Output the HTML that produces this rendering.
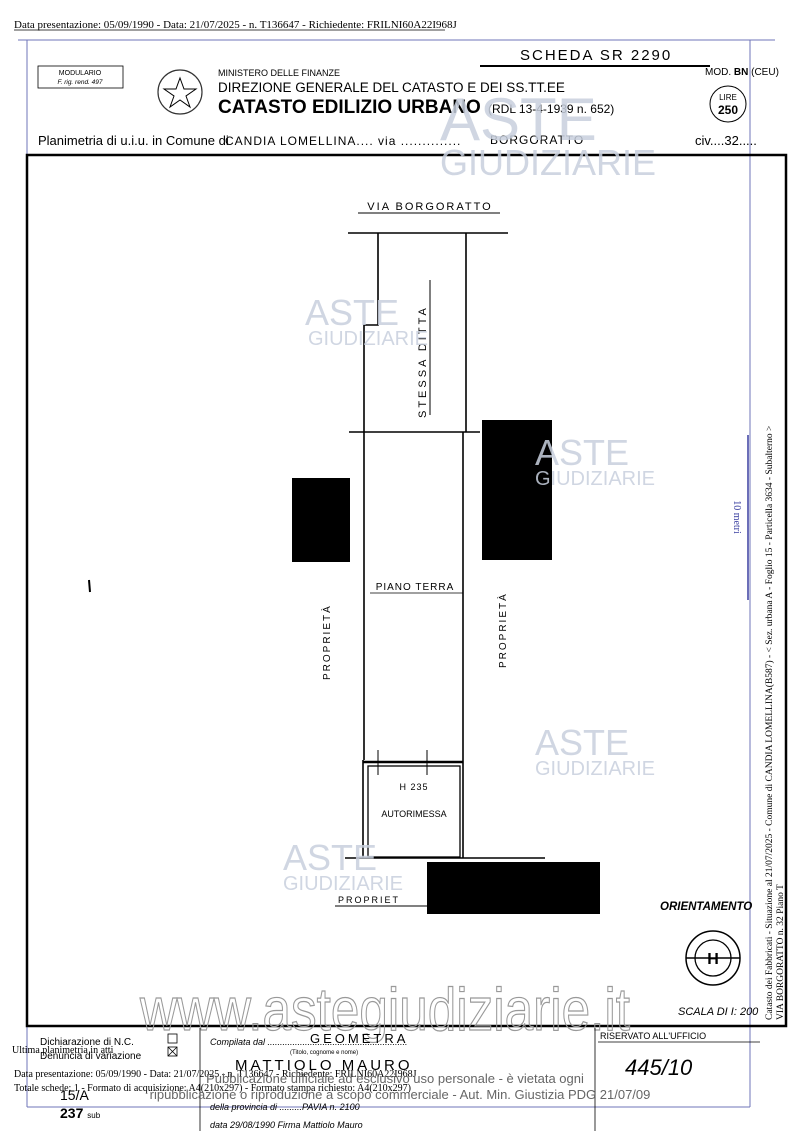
<!DOCTYPE html>
<html><head><meta charset="utf-8"><style>
html,body{margin:0;padding:0;background:#fff;}
svg{display:block;font-family:"Liberation Sans",sans-serif;}
.s{font-family:"Liberation Serif",serif;}
</style></head><body>
<svg width="800" height="1131" viewBox="0 0 800 1131" xmlns="http://www.w3.org/2000/svg">
<rect width="800" height="1131" fill="#fff"/>
<text x="14" y="28" class="s" font-size="11" fill="#000">Data presentazione: 05/09/1990 - Data: 21/07/2025 - n. T136647 - Richiedente: FRILNI60A22I968J</text>
<line x1="14" y1="30" x2="445" y2="30" stroke="#000" stroke-width="0.8"/>
<g stroke="#6f74b8" stroke-width="1" fill="none">
<line x1="18" y1="40" x2="775" y2="40"/>
<line x1="27" y1="40" x2="27" y2="1107"/>
<line x1="750" y1="40" x2="750" y2="1107"/>
<line x1="27" y1="1107" x2="750" y2="1107"/>
<line x1="748" y1="435" x2="748" y2="600" stroke="#3a3fa0" stroke-width="1.5"/>
</g>
<text x="734" y="517" class="s" font-size="10" fill="#3a3fa0" transform="rotate(90 734 517)" text-anchor="middle">10 metri</text>
<text x="520" y="60" font-size="15" letter-spacing="2">SCHEDA  SR 2290</text>
<line x1="480" y1="66" x2="710" y2="66" stroke="#000" stroke-width="2"/>
<rect x="38" y="66" width="85" height="22" fill="none" stroke="#000" stroke-width="0.8"/>
<text x="80" y="75" font-size="7" text-anchor="middle">MODULARIO</text>
<text x="80" y="84" font-size="6.5" text-anchor="middle" font-style="italic">F. rig. rend. 497</text>
<circle cx="180" cy="92" r="22" fill="none" stroke="#333" stroke-width="1.2"/>
<polygon points="180,78 184,89 196,89 186,96 190,107 180,100 170,107 174,96 164,89 176,89" fill="none" stroke="#000"/>
<text x="218" y="76" font-size="9">MINISTERO DELLE FINANZE</text>
<text x="218" y="92" font-size="13.5">DIREZIONE GENERALE DEL CATASTO E DEI SS.TT.EE</text>
<text x="218" y="113" font-size="19" font-weight="bold">CATASTO EDILIZIO URBANO</text>
<text x="488" y="113" font-size="12">(RDL 13-4-1939 n. 652)</text>
<text x="705" y="75" font-size="10">MOD. <tspan font-weight="bold">BN</tspan> (CEU)</text>
<circle cx="728" cy="104" r="18" fill="none" stroke="#000"/>
<text x="728" y="100" font-size="8" text-anchor="middle">LIRE</text>
<text x="728" y="114" font-size="12" font-weight="bold" text-anchor="middle">250</text>
<text x="38" y="145" font-size="13">Planimetria di u.i.u. in Comune di</text>
<text x="225" y="145" font-size="12" letter-spacing="1">CANDIA LOMELLINA.... via ..............</text>
<text x="490" y="144" font-size="12" letter-spacing="1">BORGORATTO</text>
<text x="695" y="145" font-size="13">civ....32.....</text>
<rect x="27" y="155" width="759" height="871" fill="none" stroke="#000" stroke-width="2.5"/>
<g stroke="#000" stroke-width="1.6" fill="none">
<line x1="358" y1="213" x2="500" y2="213" stroke-width="1"/>
<line x1="348" y1="233" x2="508" y2="233"/>
<polyline points="378,233 378,325 364,325 364,760"/>
<line x1="466" y1="233" x2="466" y2="432"/>
<line x1="463" y1="432" x2="463" y2="760"/>
<line x1="349" y1="432" x2="480" y2="432"/>
<line x1="430" y1="280" x2="430" y2="415" stroke-width="1"/>
<line x1="363" y1="762" x2="463" y2="762" stroke-width="2.5"/>
<rect x="368" y="766" width="92" height="91" stroke-width="1.3"/>
<line x1="363" y1="760" x2="363" y2="858"/>
<line x1="463" y1="760" x2="463" y2="858"/>
<line x1="345" y1="858" x2="545" y2="858"/>
<line x1="378" y1="750" x2="378" y2="775" stroke-width="1"/>
<line x1="427" y1="750" x2="427" y2="775" stroke-width="1"/>
<line x1="335" y1="906" x2="428" y2="906" stroke-width="1"/>
<line x1="370" y1="593" x2="463" y2="593" stroke-width="0.8"/>
</g>
<text x="430" y="210" font-size="11" text-anchor="middle" letter-spacing="2">VIA BORGORATTO</text>
<text x="426" y="418" font-size="11" letter-spacing="3" transform="rotate(-90 426 418)">STESSA DITTA</text>
<text x="415" y="590" font-size="10" text-anchor="middle" letter-spacing="1">PIANO TERRA</text>
<text x="330" y="680" font-size="10" letter-spacing="2" transform="rotate(-90 330 680)">PROPRIETÀ</text>
<text x="506" y="668" font-size="10" letter-spacing="2" transform="rotate(-90 506 668)">PROPRIETÀ</text>
<text x="414" y="790" font-size="9" text-anchor="middle" letter-spacing="1">H 235</text>
<text x="414" y="817" font-size="9" text-anchor="middle">AUTORIMESSA</text>
<text x="338" y="903" font-size="9" letter-spacing="2">PROPRIET</text>
<rect x="482" y="420" width="70" height="140" fill="#000"/>
<rect x="292" y="478" width="58" height="84" fill="#000"/>
<rect x="427" y="862" width="173" height="52" fill="#000"/>
<line x1="89" y1="580" x2="90" y2="592" stroke="#000" stroke-width="2"/>
<text x="660" y="910" font-size="11.5" font-style="italic" font-weight="bold">ORIENTAMENTO</text>
<circle cx="713" cy="958" r="27" fill="none" stroke="#000" stroke-width="1.5"/>
<circle cx="713" cy="958" r="18" fill="none" stroke="#000" stroke-width="1.3"/>
<line x1="686" y1="958" x2="740" y2="958" stroke="#000" stroke-width="1.5"/>
<text x="713" y="964" font-size="16" font-weight="bold" text-anchor="middle">H</text>
<text x="678" y="1015" font-size="11" font-style="italic">SCALA DI I: 200</text>
<text x="772" y="1020" class="s" font-size="9.5" transform="rotate(-90 772 1020)">Catasto dei Fabbricati - Situazione al 21/07/2025 - Comune di CANDIA LOMELLINA(B587) - &lt; Sez. urbana A - Foglio 15 - Particella 3634 - Subalterno &gt;</text>
<text x="783" y="1020" class="s" font-size="9.5" transform="rotate(-90 783 1020)">VIA BORGORATTO n. 32 Piano T</text>
<g fill="#c8d0de" opacity="0.85">
<text x="305" y="325" font-size="36">ASTE</text><text x="308" y="345" font-size="20">GIUDIZIARIE</text>
<text x="535" y="465" font-size="36">ASTE</text><text x="535" y="485" font-size="20">GIUDIZIARIE</text>
<text x="535" y="755" font-size="36">ASTE</text><text x="535" y="775" font-size="20">GIUDIZIARIE</text>
<text x="283" y="870" font-size="36">ASTE</text><text x="283" y="890" font-size="20">GIUDIZIARIE</text>
<text x="440" y="140" font-size="60">ASTE</text><text x="440" y="175" font-size="36">GIUDIZIARIE</text>
</g>
<text x="140" y="1030" font-size="60" textLength="490" lengthAdjust="spacingAndGlyphs" fill="none" stroke="#999" stroke-width="1.2">www.astegiudiziarie.it</text>
<g stroke="#000" stroke-width="0.8" fill="none">
<line x1="200" y1="1028" x2="200" y2="1131"/>
<line x1="595" y1="1028" x2="595" y2="1131"/>
<line x1="598" y1="1042" x2="760" y2="1042"/>
<rect x="168" y="1034" width="9" height="9"/>
<rect x="168" y="1047" width="9" height="9"/>
<line x1="168" y1="1047" x2="177" y2="1056"/><line x1="177" y1="1047" x2="168" y2="1056"/>
</g>
<text x="40" y="1045" font-size="10">Dichiarazione di N.C.</text>
<text x="40" y="1059" font-size="10">Denuncia di variazione</text>
<text x="12" y="1053" class="s" font-size="10">Ultima planimetria in atti</text>
<text x="14" y="1077" class="s" font-size="10">Data presentazione: 05/09/1990 - Data: 21/07/2025 - n. T136647 - Richiedente: FRILNI60A22I968J</text>
<text x="14" y="1091" class="s" font-size="10">Totale schede: 1 - Formato di acquisizione: A4(210x297) - Formato stampa richiesto: A4(210x297)</text>
<text x="60" y="1100" font-size="14">15/A</text>
<text x="60" y="1118" font-size="14" font-weight="bold">237 <tspan font-size="8" font-weight="normal">sub</tspan></text>
<text x="210" y="1045" font-size="9" font-style="italic">Compilata dal ........................................................</text>
<text x="310" y="1043" font-size="13" letter-spacing="3">GEOMETRA</text>
<text x="290" y="1054" font-size="6">(Titolo, cognome e nome)</text>
<text x="235" y="1070" font-size="15" letter-spacing="3">MATTIOLO   MAURO</text>
<text x="210" y="1110" font-size="9" font-style="italic">della provincia di .........PAVIA  n. 2100</text>
<text x="210" y="1128" font-size="9" font-style="italic">data  29/08/1990  Firma  Mattiolo Mauro</text>
<text x="600" y="1039" font-size="9">RISERVATO ALL'UFFICIO</text>
<text x="625" y="1075" font-size="22" font-style="italic">445/10</text>
<text x="395" y="1083" font-size="13" fill="#666" text-anchor="middle">Pubblicazione ufficiale ad esclusivo uso personale - è vietata ogni</text>
<text x="400" y="1099" font-size="13" fill="#666" text-anchor="middle">ripubblicazione o riproduzione a scopo commerciale - Aut. Min. Giustizia PDG 21/07/09</text>
</svg>
</body></html>
